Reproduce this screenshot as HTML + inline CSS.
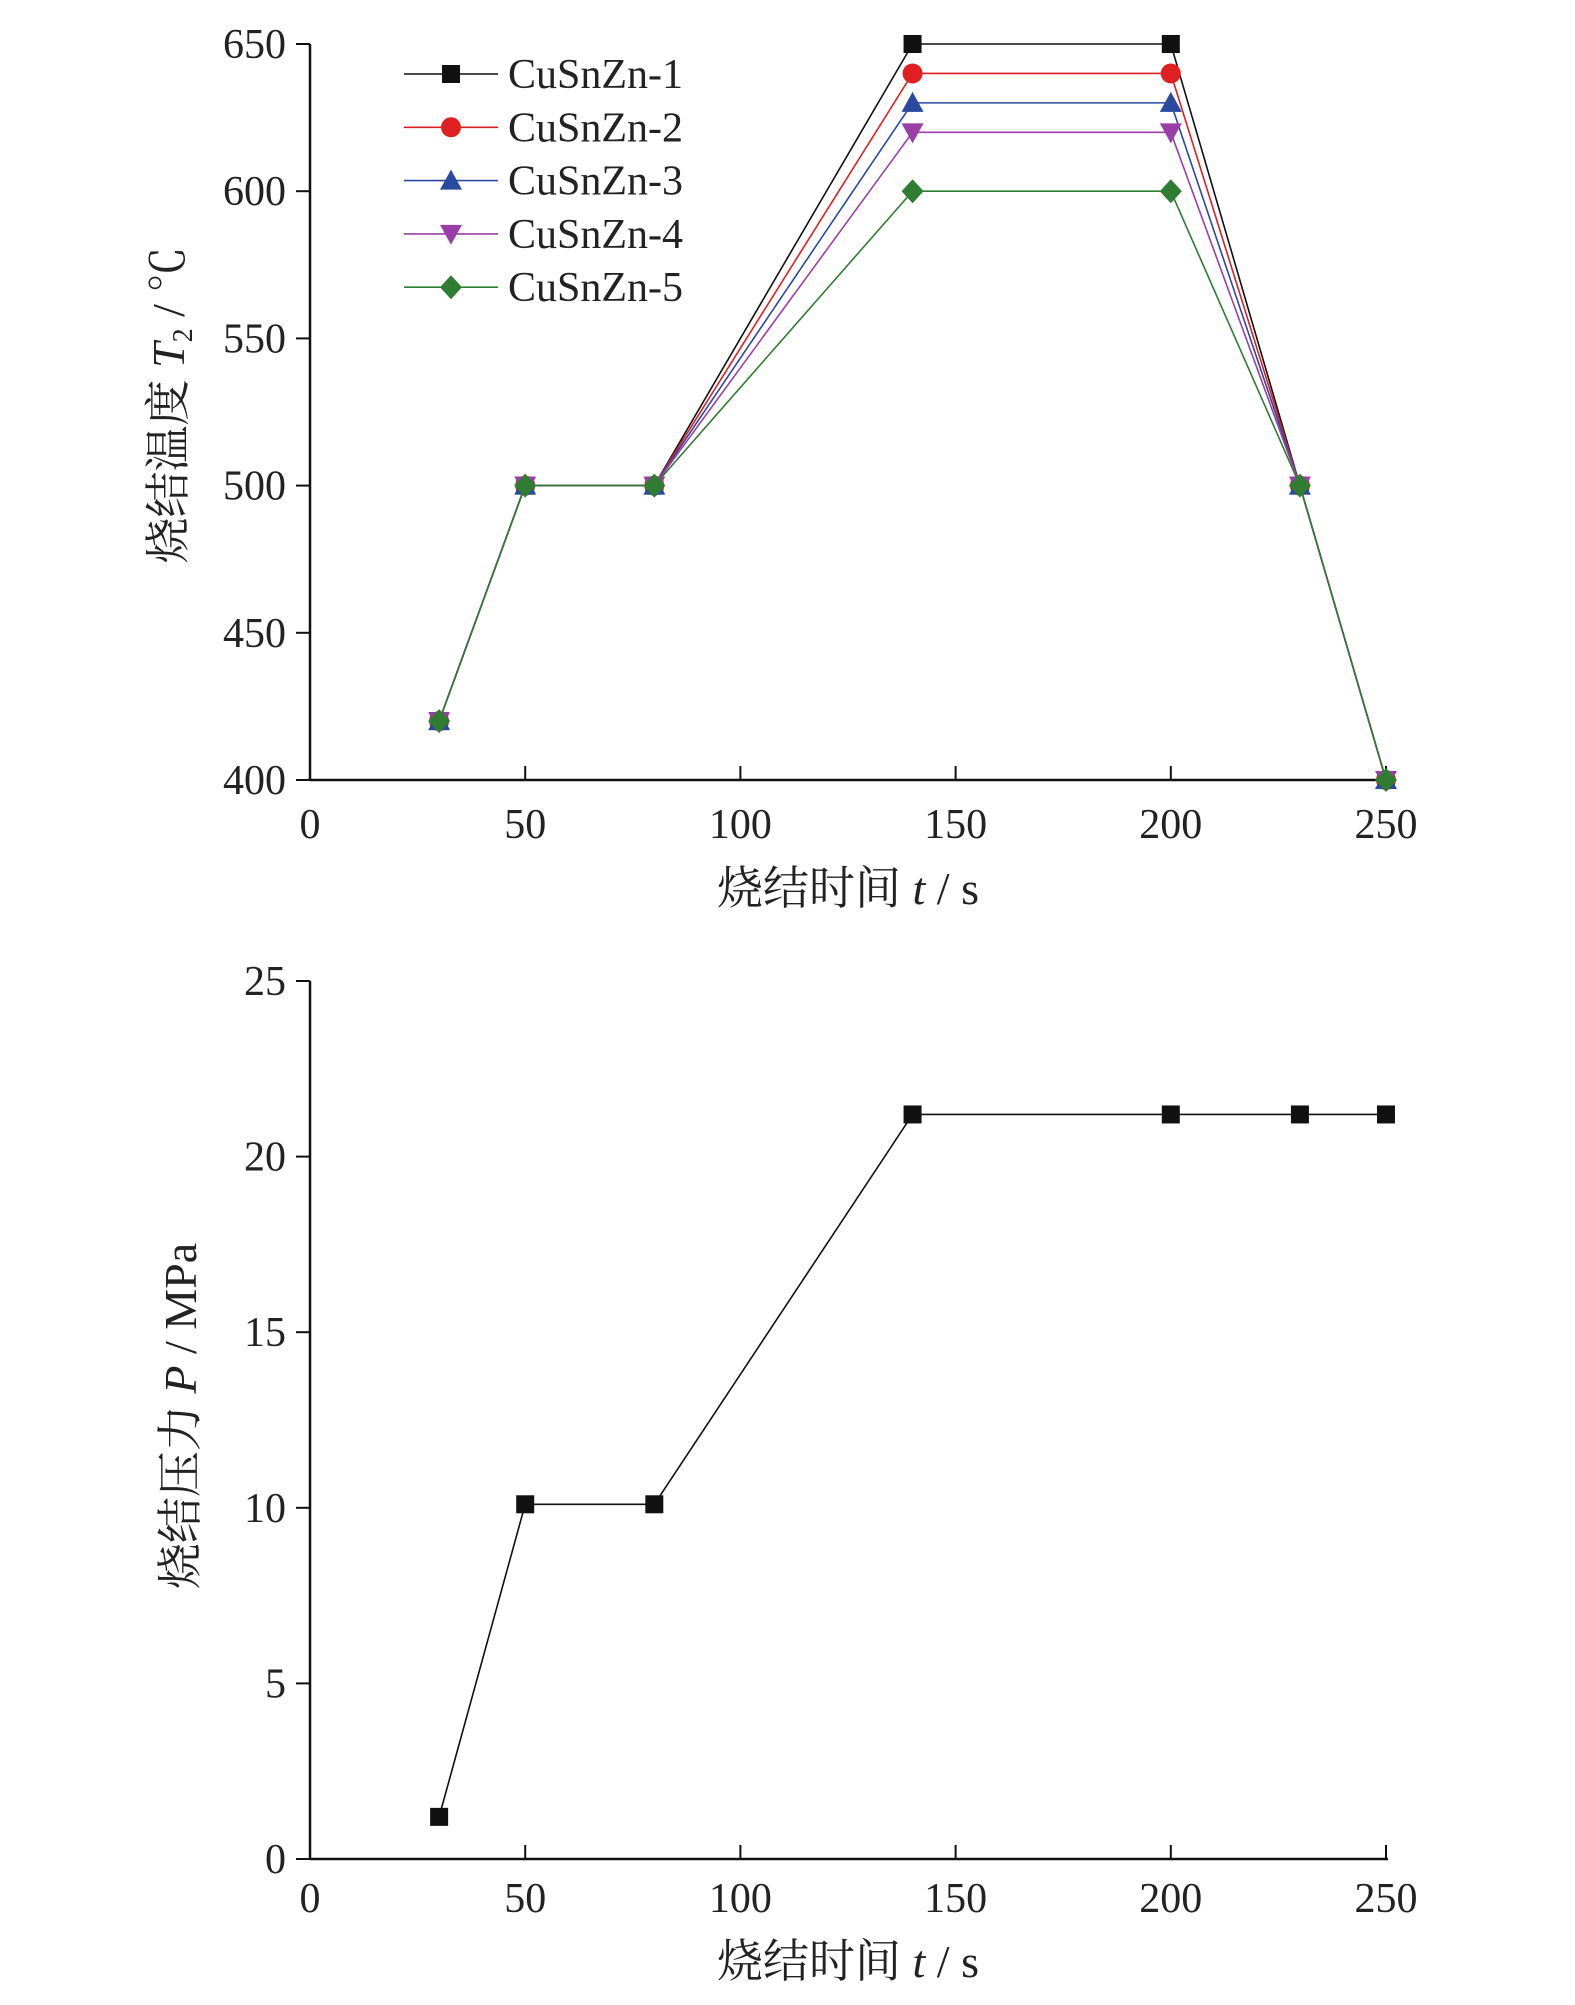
<!DOCTYPE html>
<html><head><meta charset="utf-8"><style>
html,body{margin:0;padding:0;background:#fff;}
svg text{font-family:"Liberation Serif","Noto Serif CJK SC",serif;fill:#222;}
</style></head><body>
<svg id="c" width="1575" height="2000" xmlns="http://www.w3.org/2000/svg"></svg>
<script>
const xValues = [30, 50, 80, 140, 200, 230, 250];
const seriesNames = ["CuSnZn-1","CuSnZn-2","CuSnZn-3","CuSnZn-4","CuSnZn-5"];
const temp1 = [420, 500, 500, 650, 650, 500, 400];
const temp2 = [420, 500, 500, 640, 640, 500, 400];
const temp3 = [420, 500, 500, 630, 630, 500, 400];
const temp4 = [420, 500, 500, 620, 620, 500, 400];
const temp5 = [420, 500, 500, 600, 600, 500, 400];
const pressure = [1.2, 10.1, 10.1, 21.2, 21.2, 21.2, 21.2];
const xTicks = [0, 50, 100, 150, 200, 250];
const tempTicks = [400, 450, 500, 550, 600, 650];
const presTicks = [0, 5, 10, 15, 20, 25];

const NS = "http://www.w3.org/2000/svg";
const svg = document.getElementById('c');
function mk(tag, attrs, parent){const e=document.createElementNS(NS,tag);for(const k in attrs)e.setAttribute(k,attrs[k]);(parent||svg).appendChild(e);return e;}

const X0=310, X1=1386;
const xs = v => X0 + (v/250)*(X1-X0);
const yT = v => 780 - (v-400)/250*(780-44);
const yP = v => 1859 - v/25*(1859-981);

const colors=["#111","#e02020","#2a4aa0","#9b3fa8","#2e7d32"];
const shapes=["square","circle","tri","tridown","diamond"];

function marker(g, shape, x, y, color){
  let e;
  if(shape==="square") e=mk('rect',{x:x-9,y:y-9,width:18,height:18,fill:color},g);
  else if(shape==="circle") e=mk('circle',{cx:x,cy:y,r:10,fill:color},g);
  else if(shape==="tri") e=mk('polygon',{points:`${x},${y-11} ${x+11},${y+9} ${x-11},${y+9}`,fill:color},g);
  else if(shape==="tridown") e=mk('polygon',{points:`${x},${y+11} ${x+11},${y-9} ${x-11},${y-9}`,fill:color},g);
  else e=mk('polygon',{points:`${x},${y-12} ${x+11},${y} ${x},${y+12} ${x-11},${y}`,fill:color},g);
  
  
}

function axes(yfn, yTicks, yBase, yTop, tickLabelY, titleY, yTitleX, yTitleY, yTitleHTML, prefix){
  const g=mk('g',{});
  
  
  let l=mk('line',{x1:X0,y1:yBase,x2:X1+2,y2:yBase,stroke:'#111','stroke-width':2.5},g);
  
  l=mk('line',{x1:X0,y1:yBase,x2:X0,y2:yTop,stroke:'#111','stroke-width':2.5},g);
  
  xTicks.forEach(v=>{
    const x=xs(v);
    const t=mk('line',{x1:x,y1:yBase,x2:x,y2:yBase-14,stroke:'#111','stroke-width':2},g);
    
    const tx=mk('text',{x:x,y:tickLabelY,'font-size':42,'text-anchor':'middle'},g);
    tx.textContent=v;
    
  });
  yTicks.forEach(v=>{
    const y=yfn(v);
    const t=mk('line',{x1:X0,y1:y,x2:X0-14,y2:y,stroke:'#111','stroke-width':2},g);
    
    const tx=mk('text',{x:286,y:y+14,'font-size':42,'text-anchor':'end'},g);
    tx.textContent=v;
    
  });
  const xt=mk('text',{x:848,y:titleY,'font-size':46,'text-anchor':'middle'},g);
  xt.innerHTML='烧结时间 <tspan font-style="italic">t</tspan> / s';
  
  const yt=mk('text',{x:0,y:0,'font-size':46,'text-anchor':'middle',transform:`translate(${yTitleX},${yTitleY}) rotate(-90)`},g);
  yt.innerHTML=yTitleHTML;
  
}

// Top chart
axes(yT,tempTicks,780,44,838,904,184,405,'烧结温度 <tspan font-style="italic">T</tspan><tspan font-size="28" dy="8">2</tspan><tspan dy="-8"> / ℃</tspan>','temperature');
const temps=[temp1,temp2,temp3,temp4,temp5];
for(let s=0;s<5;s++){
  const g=mk('g',{});
  
  
  const pts=xValues.map((x,i)=>xs(x)+','+yT(temps[s][i])).join(' ');
  const pl=mk('polyline',{points:pts,fill:'none',stroke:colors[s],'stroke-width':1.6},g);
  
  xValues.forEach((x,i)=>marker(g,shapes[s],xs(x),yT(temps[s][i]),colors[s]));
}
// Legend
const lg=mk('g',{});


seriesNames.forEach((n,i)=>{
  const y=74+i*53.3;
  const eg=mk('g',{},lg);
  
  
  mk('line',{x1:404,y1:y,x2:498,y2:y,stroke:colors[i],'stroke-width':1.6},eg);
  marker(eg,shapes[i],451,y,colors[i]);
  const t=mk('text',{x:508,y:y+14,'font-size':42},eg);
  t.textContent=n;
  
});

// Bottom chart
axes(yP,presTicks,1859,981,1912,1977,196,1416,'烧结压力 <tspan font-style="italic">P</tspan> / MPa','pressure');
const pg=mk('g',{});


const pp=mk('polyline',{points:xValues.map((x,i)=>xs(x)+','+yP(pressure[i])).join(' '),fill:'none',stroke:'#111','stroke-width':1.6},pg);

xValues.forEach((x,i)=>marker(pg,'square',xs(x),yP(pressure[i]),'#111'));
</script>
</body></html>
